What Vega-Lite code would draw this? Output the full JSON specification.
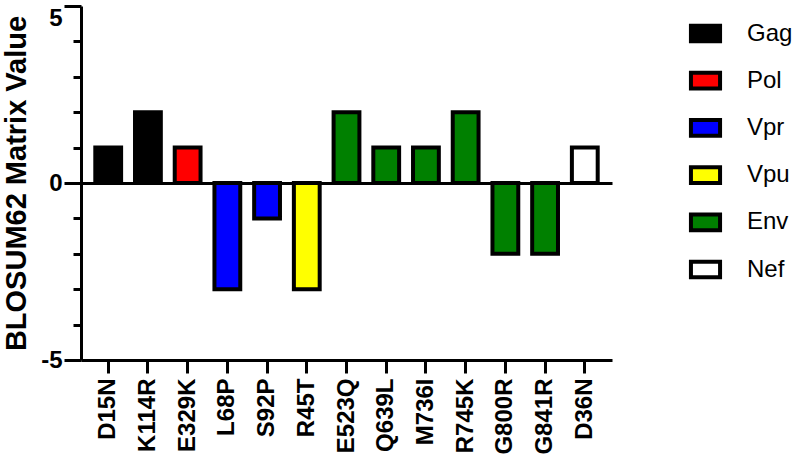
{
  "$schema": "https://vega.github.io/schema/vega-lite/v6.json",
  "autosize": {"type": "none"},
  "padding": {"left": 81, "top": 6, "right": 188, "bottom": 102},
  "width": 531,
  "height": 354,
  "background": "white",
  "config": {
    "view": {"stroke": null},
    "font": "Liberation Sans"
  },
  "data": {
    "values": [
      {"mutation": "D15N", "value": 1, "protein": "Gag"},
      {"mutation": "K114R", "value": 2, "protein": "Gag"},
      {"mutation": "E329K", "value": 1, "protein": "Pol"},
      {"mutation": "L68P", "value": -3, "protein": "Vpr"},
      {"mutation": "S92P", "value": -1, "protein": "Vpr"},
      {"mutation": "R45T", "value": -3, "protein": "Vpu"},
      {"mutation": "E523Q", "value": 2, "protein": "Env"},
      {"mutation": "Q639L", "value": 1, "protein": "Env"},
      {"mutation": "M736I", "value": 1, "protein": "Env"},
      {"mutation": "R745K", "value": 2, "protein": "Env"},
      {"mutation": "G800R", "value": -2, "protein": "Env"},
      {"mutation": "G841R", "value": -2, "protein": "Env"},
      {"mutation": "D36N", "value": 1, "protein": "Nef"}
    ]
  },
  "mark": {"type": "bar", "stroke": "black", "strokeWidth": 4},
  "encoding": {
    "x": {
      "field": "mutation",
      "type": "nominal",
      "sort": null,
      "scale": {"paddingInner": 0.35, "paddingOuter": 0.36},
      "axis": {
        "title": null,
        "labelAngle": -90,
        "labelFont": "Liberation Sans",
        "labelFontWeight": "bold",
        "labelFontSize": 24,
        "labelColor": "black",
        "labelPadding": 5,
        "tickSize": 13,
        "tickWidth": 3,
        "tickColor": "black",
        "domainWidth": 3,
        "domainColor": "black"
      }
    },
    "y": {
      "field": "value",
      "type": "quantitative",
      "scale": {"domain": [-5, 5], "nice": false, "zero": false},
      "axis": {
        "orient": "left",
        "title": "BLOSUM62 Matrix Value",
        "titleFont": "Liberation Sans",
        "titleFontSize": 29,
        "titleFontWeight": "bold",
        "titleColor": "black",
        "titleX": -56,
        "titleBaseline": "alphabetic",
        "values": [-5, -4, -3, -2, -1, 0, 1, 2, 3, 4, 5],
        "labelExpr": "datum.value == -5 ? '-5' : (datum.value == 0 ? '0' : (datum.value == 5 ? '5' : ''))",
        "labelFontSize": 24,
        "labelFontWeight": "bold",
        "labelColor": "black",
        "labelPadding": 2,
        "labelOverlap": false,
        "labelBaseline": {"condition": {"test": "datum.value == 5", "value": "top"}, "value": "middle"},
        "ticks": true,
        "tickSize": 17,
        "tickWidth": 3,
        "tickColor": "black",
        "tickOpacity": 1,
        "tickDash": {"condition": {"test": "abs(datum.value) == 5 || datum.value == 0", "value": []}, "value": [8, 40]},
        "domainWidth": 3,
        "domainColor": "black",
        "grid": true,
        "gridColor": "black",
        "gridWidth": 3,
        "gridOpacity": {"condition": {"test": "datum.value == 0", "value": 1}, "value": 0}
      }
    },
    "color": {
      "field": "protein",
      "type": "nominal",
      "scale": {
        "domain": ["Gag", "Pol", "Vpr", "Vpu", "Env", "Nef"],
        "range": ["#000000", "#ff0000", "#0000ff", "#ffff00", "#008000", "#ffffff"]
      },
      "legend": {
        "title": null,
        "orient": "none",
        "legendX": 604,
        "legendY": 7,
        "symbolType": "M-0.787,-0.425H0.787V0.425H-0.787Z",
        "symbolSize": 1369,
        "symbolStrokeColor": "black",
        "symbolStrokeWidth": 4,
        "symbolOpacity": 1,
        "labelFontSize": 24,
        "labelColor": "black",
        "labelFont": "Liberation Sans",
        "labelOffset": 21,
        "rowPadding": 10.2
      }
    }
  }
}
